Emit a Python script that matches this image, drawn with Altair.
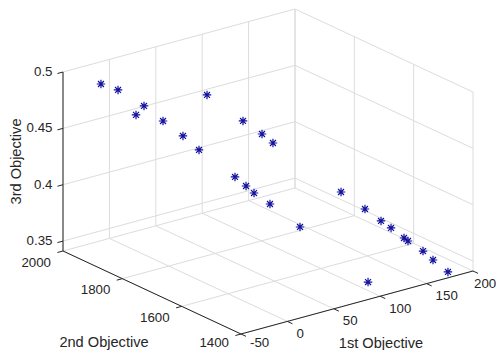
import altair as alt
import pandas as pd

# ---------------- data ----------------
obj1 = [-9.1, 2.9, 15.9, 27.7, 38.6, 53.7, 64.6, 92.4, 105.6, 122.9, 131.5,
        77.8, 83.3, 88.7, 99.5, 122.3,
        163.3, 176.3, 180.8, 182.0, 180.0, 181.1, 181.3, 179.3, 179.4, 86.9]
obj2 = [2000, 1980, 1960, 1970, 1940, 1920, 1900, 1960, 1880, 1870, 1860,
        1820, 1800, 1790, 1770, 1740,
        1730, 1690, 1650, 1620, 1570, 1560, 1510, 1470, 1420, 1400]
obj3 = [0.4802, 0.4747, 0.4521, 0.4562, 0.4441, 0.4299, 0.4175, 0.4527, 0.4365, 0.4223, 0.4136,
        0.4004, 0.3936, 0.3874, 0.3777, 0.3559,
        0.3790, 0.3659, 0.3592, 0.3564, 0.3541, 0.3524, 0.3496, 0.3470, 0.3425, 0.3567]

x_ticks = [-50, 0, 50, 100, 150, 200]
y_ticks = [1400, 1600, 1800, 2000]
z_ticks = [0.35, 0.4, 0.45, 0.5]
x_tick_labels = ["-50", "0", "50", "100", "150", "200"]
y_tick_labels = ["1400", "1600", "1800", "2000"]
z_tick_labels = ["0.35", "0.4", "0.45", "0.5"]
x_lim = (-50, 200)
y_lim = (1400, 2000)
z_lim = (0.3412, 0.5)
x_title = "1st Objective"
y_title = "2nd Objective"
z_title = "3rd Objective"

# ---------------- 3-D view (az -37.5, el 30) as screen projection ----------------
ORIGIN = (241, 334)          # corner (xmin, ymin, zmin)
EX = (232, -63)              # full x range on screen
EY = (-178, -83)             # full y range on screen
EZ = (0, -179)               # full z range on screen
RIGHT_EDGE = 496             # last visible pixel column of the drawing
BOTTOM_TEXT = 343            # lowest text centre that stays fully visible


def proj(fx, fy, fz, su="u", sv="v"):
    nx = f"((datum.{fx}-({x_lim[0]}))/{x_lim[1] - x_lim[0]})"
    ny = f"((datum.{fy}-({y_lim[0]}))/{y_lim[1] - y_lim[0]})"
    nz = f"((datum.{fz}-({z_lim[0]}))/{z_lim[1] - z_lim[0]:.6f})"
    u = f"{ORIGIN[0]}+({EX[0]})*{nx}+({EY[0]})*{ny}+({EZ[0]})*{nz}"
    v = f"{ORIGIN[1]}+({EX[1]})*{nx}+({EY[1]})*{ny}+({EZ[1]})*{nz}"
    return {su: u, sv: v}


xmin, xmax = x_lim
ymin, ymax = y_lim
zmin, zmax = z_lim

grid_rows = []
for t in x_ticks:
    grid_rows.append((t, ymax, zmin, t, ymax, zmax))
    grid_rows.append((t, ymin, zmin, t, ymax, zmin))
for t in y_ticks:
    grid_rows.append((xmax, t, zmin, xmax, t, zmax))
    grid_rows.append((xmin, t, zmin, xmax, t, zmin))
for t in z_ticks:
    grid_rows.append((xmin, ymax, t, xmax, ymax, t))
    grid_rows.append((xmax, ymin, t, xmax, ymax, t))

axis_rows = [
    (xmin, ymin, zmin, xmax, ymin, zmin),
    (xmin, ymin, zmin, xmin, ymax, zmin),
    (xmin, ymax, zmin, xmin, ymax, zmax),
]
for t in x_ticks:
    axis_rows.append((t, ymin, zmin, t, ymin - 17, zmin))
for t in y_ticks:
    axis_rows.append((xmin, t, zmin, xmin - 6, t, zmin))
for t in z_ticks:
    axis_rows.append((xmin, ymax, t, xmin - 6, ymax, t))

cols = ["a", "b", "c", "d", "e", "f"]
grid_df = pd.DataFrame(grid_rows, columns=cols)
axis_df = pd.DataFrame(axis_rows, columns=cols)
pts_df = pd.DataFrame({"p": obj1, "q": obj2, "r": obj3})

# page-pixel scales: the svg starts at (8, 8)
X_SCALE = alt.Scale(domain=[8, 496], nice=False, zero=False)
Y_SCALE = alt.Scale(domain=[8, 350], nice=False, zero=False, reverse=True)

FONT = "Liberation Sans, Arial, Helvetica, sans-serif"
TXT = "#262626"


def segments(df, color, width):
    return alt.Chart(df).mark_rule(color=color, strokeWidth=width).transform_calculate(
        **proj("a", "b", "c", "u0", "v0"), **proj("d", "e", "f", "u1", "v1")
    ).encode(
        x=alt.X("u0:Q", scale=X_SCALE, axis=None),
        y=alt.Y("v0:Q", scale=Y_SCALE, axis=None),
        x2="u1:Q",
        y2="v1:Q",
    )


def labels(df, xfield="u", yfield="v", extra=None, **mk):
    ch = alt.Chart(df).mark_text(font=FONT, color=TXT, **mk).transform_calculate(
        **proj("a", "b", "c")
    )
    if extra:
        ch = ch.transform_calculate(**extra)
    return ch.encode(
        x=alt.X(f"{xfield}:Q", scale=X_SCALE, axis=None),
        y=alt.Y(f"{yfield}:Q", scale=Y_SCALE, axis=None),
        text="t:N",
    )


grid = segments(grid_df, "#dcdcdc", 1)
axes = segments(axis_df, "#262626", 1)

xl_df = pd.DataFrame({"a": x_ticks, "b": ymin, "c": zmin, "t": x_tick_labels})
yl_df = pd.DataFrame({"a": xmin, "b": y_ticks, "c": zmin, "t": y_tick_labels})
zl_df = pd.DataFrame({"a": xmin, "b": ymax, "c": z_ticks, "t": z_tick_labels})

# tick labels beside their ticks, kept inside the drawing at the right / bottom edges
xlab = labels(xl_df, xfield="ul", yfield="vl",
              extra={"ul": f"min(datum.u + 9, {RIGHT_EDGE - 22})",
                     "vl": f"min(datum.v + 12.5, {BOTTOM_TEXT})"},
              fontSize=13.3, align="left", baseline="middle")
ylab = labels(yl_df, xfield="ul", yfield="vl",
              extra={"ul": "datum.u - 12",
                     "vl": f"min(datum.v + 11.5, {BOTTOM_TEXT})"},
              fontSize=13.3, align="right", baseline="middle")
zlab = labels(zl_df, fontSize=13.3, align="right", baseline="middle", dx=-10.5)

xt_df = pd.DataFrame({"a": [(xmin + xmax) / 2], "b": [ymin], "c": [zmin], "t": [x_title]})
yt_df = pd.DataFrame({"a": [xmin], "b": [(ymin + ymax) / 2], "c": [zmin], "t": [y_title]})
zt_df = pd.DataFrame({"a": [xmin], "b": [ymax], "c": [(zmin + zmax) / 2], "t": [z_title]})

xtit = labels(xt_df, fontSize=14.6, align="center", baseline="middle", dx=24, dy=41)
ytit = labels(yt_df, fontSize=14.6, align="center", baseline="middle", dx=-48, dy=50.5)
ztit = labels(zt_df, fontSize=14.6, align="center", baseline="middle", angle=270, dy=-46)

ASTERISK = "M-1,0L1,0M0,-1L0,1M-0.7,-0.7L0.7,0.7M-0.7,0.7L0.7,-0.7"
points = alt.Chart(pts_df).mark_point(
    shape=ASTERISK, size=72, filled=False, color="#12129c", strokeWidth=1.2, opacity=1
).transform_calculate(**proj("p", "q", "r")).encode(
    x=alt.X("u:Q", scale=X_SCALE, axis=None),
    y=alt.Y("v:Q", scale=Y_SCALE, axis=None),
)

chart = alt.layer(grid, axes, xlab, ylab, zlab, xtit, ytit, ztit, points).properties(
    width=488, height=342, padding=0, autosize="none"
).configure_view(strokeWidth=0)

chart.save("out.html", embed_options={"renderer": "svg", "actions": False})
